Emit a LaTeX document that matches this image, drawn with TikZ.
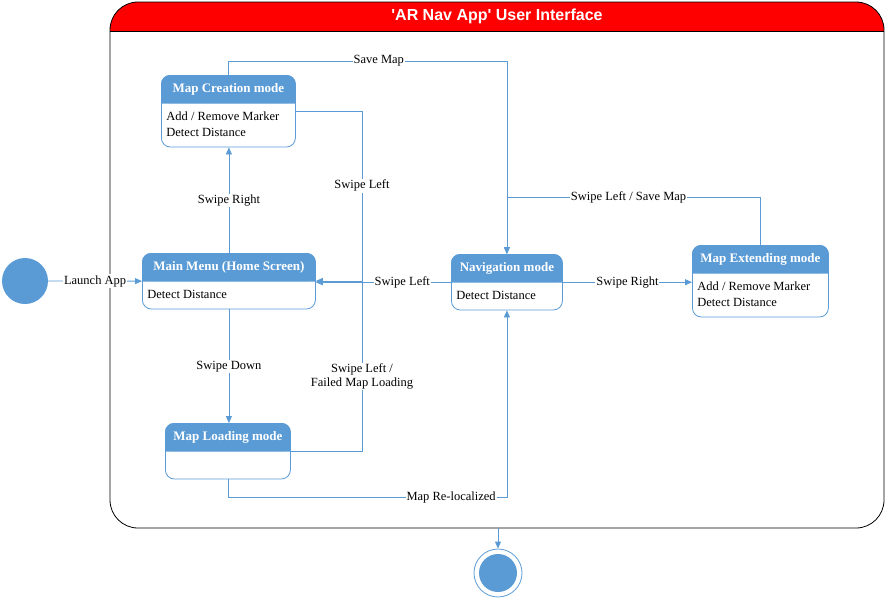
\documentclass[tikz,border=0pt]{standalone}
\usepackage{fontspec}
\setmainfont{Liberation Serif}
\newfontfamily\headfont{Liberation Sans}[Ligatures=TeXOff]
\usetikzlibrary{shapes.multipart,arrows.meta,backgrounds}
\definecolor{uiblue}{HTML}{5B9BD5}
\newcommand{\modehead}[1]{\textcolor{white}{\fontsize{13}{16}\selectfont\bfseries\strut #1}}

\begin{document}
\begin{tikzpicture}[x=1pt,y=-1pt,
  trans/.style={draw=uiblue, line width=0.8pt, -{Triangle[length=7pt,width=6pt]}},
  link/.style={draw=uiblue, line width=0.8pt},
  lbl/.style={fill=white, inner sep=1pt, font=\fontsize{12.5}{14}\selectfont},
  mode/.style={rectangle split, rectangle split parts=2, draw=uiblue, line width=0.8pt,
    rounded corners=9pt, rectangle split part align={center,left}, align=left,
    inner xsep=5pt, inner ysep=5.5pt, anchor=north west, font=\fontsize{12.5}{16}\selectfont},
  start/.style={circle, fill=uiblue, minimum size=46pt, inner sep=0pt},
  frame/.style={draw=black, line width=0.8pt, rounded corners=28pt, minimum width=774pt,
    minimum height=526pt, path picture={\fill[red, sharp corners] (path picture bounding box.north west)
      rectangle ([yshift=-29pt]path picture bounding box.north east);
      \draw[black, line width=0.8pt] ([yshift=-29pt]path picture bounding box.north west)
      -- ([yshift=-29pt]path picture bounding box.north east);}}
]
\useasboundingbox (0,0) rectangle (885,598);

% outer frame
\node[frame] (ui) at (497,265) {};
\node[font=\headfont\bfseries\fontsize{16}{18}\selectfont, text=white] (title) at (497,16)
  {'AR Nav App' User Interface};

% states
\node[start] (init) at (25,281) {};
\node[mode, minimum width=173pt] (main) at (142,253)
  {\modehead{Main Menu (Home Screen)}\nodepart{two}\strut Detect Distance};
\node[mode, minimum width=134pt] (creation) at (161,75)
  {\modehead{Map Creation mode}\nodepart{two}\strut Add / Remove Marker\\\strut Detect Distance};
\node[mode, minimum width=125pt] (loading) at (165,423)
  {\modehead{Map Loading mode}\nodepart{two}\strut};
\node[mode, minimum width=111pt] (nav) at (451,254)
  {\modehead{Navigation mode}\nodepart{two}\strut Detect Distance};
\node[mode, minimum width=136pt] (ext) at (692,245)
  {\modehead{Map Extending mode}\nodepart{two}\strut Add / Remove Marker\\\strut Detect Distance};

% blue title bars of the states
\begin{scope}[on background layer]
\foreach \m in {main,creation,loading,nav,ext} {
  \fill[uiblue, rounded corners=9pt] (\m.north west) rectangle (\m.text split east);
  \fill[uiblue] ([yshift=-12pt]\m.north west) rectangle (\m.text split east);
}
\end{scope}

\node[circle, draw=uiblue, line width=0.8pt, minimum size=48pt, inner sep=0pt] (final) at (498,573) {};
\node[circle, fill=uiblue, minimum size=38pt, inner sep=0pt] (final core) at (final) {};

\coordinate (merge) at (362,281);

% transitions
\draw[trans] (init) -- node[lbl] {Launch App} (main);
\draw[trans] (main.north) -- node[lbl] {Swipe Right} (main.north |- creation.south);
\draw[trans] (main.south) -- node[lbl] {Swipe Down} (main.south |- loading.north);
\draw[trans] (creation.north) -- ++(0,-14) -| node[lbl, pos=0.27] {Save Map} (nav.north);
\draw[trans] (ext.north) -- ++(0,-48) -| node[lbl, pos=0.26] {Swipe Left / Save Map} (nav.north);
\draw[trans] (nav.west) -- node[lbl, pos=0.36] {Swipe Left} (nav.west -| main.east);
\draw[trans] (nav.east) -- node[lbl] {Swipe Right} (nav.east -| ext.west);
\draw[link] (creation.east) -| node[lbl, pos=0.72] {Swipe Left} (merge);
\draw[link] (loading.east) -| node[lbl, pos=0.72, align=center] {Swipe Left /\\Failed Map Loading} (merge);
\draw[trans] (merge) -- (merge -| main.east);
\draw[trans] (loading.south) -- ++(0,18) -| node[lbl, pos=0.40] {Map Re-localized} (nav.south);
\draw[trans] (ui.south -| final) -- (final);
\end{tikzpicture}
\end{document}
